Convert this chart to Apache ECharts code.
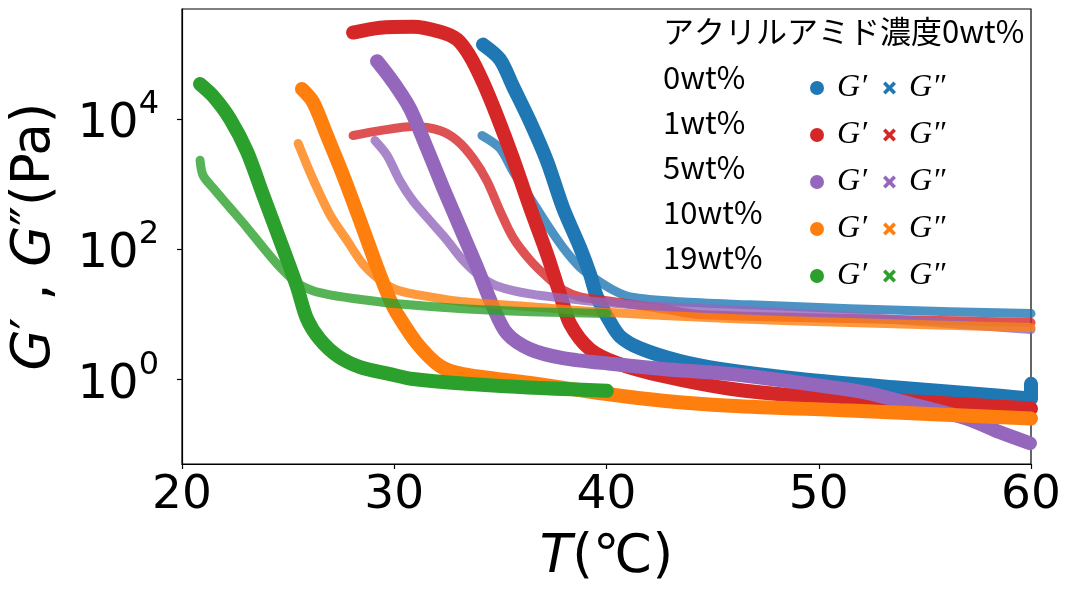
<!DOCTYPE html>
<html>
<head>
<meta charset="utf-8">
<script src="https://cdn.jsdelivr.net/npm/echarts@6/dist/echarts.min.js"></script>
<style>
  html, body { margin: 0; padding: 0; background: #fff; }
  #chart { width: 1066px; height: 590px; }
</style>
</head>
<body>
<div id="chart"></div>
<script>
// Storage modulus G' and loss modulus G'' (Pa) versus temperature (°C)
const concentrations = ['0wt%', '1wt%', '5wt%', '10wt%', '19wt%'];
const legendTitle = 'アクリルアミド濃度0wt%';
const xTicks = [20, 30, 40, 50, 60];
const yTicks = [1, 100, 10000];

// 0wt%
const T_gp_0 = [34.18, 34.98, 35.59, 36.40, 37.20, 37.95, 38.75, 39.22, 39.55, 40.16, 40.64, 41.58, 43.46, 45.35, 49.12, 53.83, 58.54, 60.0, 60.0];
const Gp_0   = [138000, 81800, 31800, 9040, 2230, 431, 106, 41.3, 18.5, 7.69, 4.55, 2.99, 1.90, 1.44, 1.01, 0.738, 0.557, 0.502, 0.849];
const T_gpp_0 = [34.13, 34.98, 35.59, 36.40, 37.20, 37.95, 38.75, 39.55, 40.31, 41.11, 43.46, 46.76, 51.47, 56.18, 60.0];
const Gpp_0   = [5540, 3520, 1570, 611, 238, 106, 52.7, 33.4, 23.5, 18.4, 15.5, 13.9, 12.1, 10.9, 10.2];

// 1wt%
const T_gp_1 = [28.06, 29.33, 30.88, 32.16, 32.96, 33.57, 34.18, 34.84, 35.59, 36.40, 37.20, 37.81, 38.28, 39.22, 40.49, 42.66, 45.82, 49.12, 53.83, 60.0];
const Gp_1   = [211000, 251000, 260000, 218000, 166000, 91200, 36600, 11100, 2480, 431, 83.2, 20.3, 7.17, 2.89, 1.77, 1.12, 0.713, 0.557, 0.468, 0.354];
const T_gpp_1 = [28.06, 29.33, 30.88, 32.16, 32.96, 33.71, 34.37, 34.98, 35.59, 36.40, 37.20, 37.95, 38.75, 39.69, 42.66, 44.40, 51.47, 60.0];
const Gpp_1   = [5540, 6590, 7590, 6590, 4650, 2480, 1110, 387, 151, 67.4, 37.2, 23.5, 18.4, 16.6, 12.1, 9.83, 8.54, 7.43];

// 5wt%
const T_gp_5 = [29.19, 29.94, 30.74, 31.54, 32.30, 33.10, 33.90, 34.65, 35.31, 36.40, 37.95, 40.31, 42.66, 45.82, 49.12, 52.27, 54.63, 56.98, 58.54, 59.95];
const Gp_5   = [76900, 36900, 14400, 3540, 873, 215, 52.7, 13.0, 5.06, 2.89, 2.11, 1.71, 1.44, 1.20, 0.879, 0.620, 0.393, 0.249, 0.153, 0.104];
const T_gpp_5 = [29.09, 29.66, 30.27, 30.88, 31.68, 32.49, 33.24, 34.04, 34.84, 36.40, 39.55, 42.66, 45.82, 51.47, 60.0];
const Gpp_5   = [4650, 2750, 1110, 550, 273, 136, 67.3, 38.5, 27.1, 20.5, 15.5, 13.0, 11.7, 9.17, 5.81];

// 10wt%
const T_gp_10 = [25.65, 26.17, 26.83, 27.59, 28.39, 29.19, 29.80, 30.13, 31.07, 32.16, 33.24, 36.40, 39.55, 42.66, 45.82, 51.47, 60.0];
const Gp_10   = [28700, 18200, 5540, 1360, 273, 52.7, 16.6, 10.2, 3.56, 1.59, 1.20, 0.879, 0.620, 0.468, 0.393, 0.330, 0.249];
const T_gpp_10 = [25.47, 25.89, 26.36, 26.97, 27.77, 28.53, 29.33, 30.13, 31.68, 33.24, 36.40, 39.55, 45.82, 51.47, 60.0];
const Gpp_10   = [4190, 1940, 867, 337, 136, 58.5, 33.4, 23.5, 18.4, 15.5, 13.0, 10.9, 8.54, 7.43, 6.24];

// 19wt%
const T_gp_19 = [20.85, 21.46, 22.26, 23.06, 23.82, 24.62, 25.42, 25.89, 26.50, 27.35, 28.39, 29.80, 30.88, 34.84, 40.02];
const Gp_19   = [34200, 22400, 10000, 3160, 678, 136, 26.2, 8.45, 4.08, 2.26, 1.54, 1.20, 1.01, 0.792, 0.665];
const T_gpp_19 = [20.85, 20.99, 21.46, 22.26, 23.06, 23.82, 24.62, 25.42, 26.17, 26.97, 28.53, 30.13, 33.24, 36.40, 40.02];
const Gpp_19   = [2310, 1360, 867, 431, 214, 106, 52.7, 30.1, 22.8, 19.8, 16.6, 14.4, 12.1, 10.9, 10.2];

const colors = ['#1f77b4', '#d62728', '#9467bd', '#ff7f0e', '#2ca02c'];

const storageSets = [[T_gp_0, Gp_0], [T_gp_1, Gp_1], [T_gp_5, Gp_5], [T_gp_10, Gp_10], [T_gp_19, Gp_19]];
const lossSets = [[T_gpp_0, Gpp_0], [T_gpp_1, Gpp_1], [T_gpp_5, Gpp_5], [T_gpp_10, Gpp_10], [T_gpp_19, Gpp_19]];

const zip = (xs, ys) => xs.map((x, i) => [x, ys[i]]);

const series = [];
concentrations.forEach((c, i) => {
  series.push({
    name: c + " G′",
    type: 'line',
    data: zip(storageSets[i][0], storageSets[i][1]),
    showSymbol: false,
    smooth: 0.3,
    color: colors[i],
    lineStyle: { width: 14, cap: 'round', join: 'round', color: colors[i] },
    emphasis: { disabled: true }
  });
  series.push({
    name: c + " G″",
    type: 'line',
    data: zip(lossSets[i][0], lossSets[i][1]),
    showSymbol: false,
    smooth: 0.3,
    color: colors[i],
    lineStyle: { width: 9, cap: 'round', join: 'round', color: colors[i], opacity: 0.8 },
    emphasis: { disabled: true }
  });
});

const crossIcon = 'path://M2,0 L5,3 L8,0 L10,2 L7,5 L10,8 L8,10 L5,7 L2,10 L0,8 L3,5 L0,2 Z';
const rowTop = 67, rowStep = 45;

const graphics = [{
  type: 'text', left: 663, top: 16,
  style: { text: legendTitle, fontFamily: 'Noto Sans CJK JP', fontSize: 31, fill: '#000' }
}];
concentrations.forEach((c, i) => {
  graphics.push({
    type: 'text', left: 663, top: rowTop + i * rowStep - 5,
    style: { text: c, fontFamily: 'Noto Sans CJK JP', fontSize: 31, fill: '#000' }
  });
});

const legendText = {
  rich: {
    g: { fontFamily: 'Liberation Serif', fontStyle: 'italic', fontSize: 32, lineHeight: 30, color: '#000', padding: [0, 0, 0, 8] }
  }
};

const axisTitleStyle = {
  fontFamily: 'DejaVu Sans', fontSize: 53, color: '#000',
  rich: { i: { fontFamily: 'DejaVu Sans', fontStyle: 'italic', fontSize: 53, color: '#000' } }
};

const option = {
  animation: false,
  backgroundColor: '#fff',
  grid: {
    left: 182, right: 35, top: 9, bottom: 121,
    show: true, borderColor: '#000', borderWidth: 1.2, backgroundColor: 'transparent'
  },
  legend: [{
    data: series.filter((s, k) => k % 2 === 0).map(s => s.name),
    orient: 'vertical', left: 805, top: rowTop, itemGap: 15,
    icon: 'circle', itemWidth: 14, itemHeight: 14,
    itemStyle: { opacity: 1 },
    formatter: () => '{g|G′}',
    textStyle: legendText,
    selectedMode: false
  }, {
    data: series.filter((s, k) => k % 2 === 1).map(s => s.name),
    orient: 'vertical', left: 878, top: rowTop, itemGap: 15,
    icon: crossIcon, itemWidth: 13, itemHeight: 13,
    itemStyle: { opacity: 1 },
    formatter: () => '{g|G″}',
    textStyle: legendText,
    selectedMode: false
  }],
  xAxis: {
    type: 'value', min: xTicks[0], max: xTicks[xTicks.length - 1], interval: 10,
    name: '{i|T}(℃)', nameLocation: 'middle', nameGap: 68,
    nameTextStyle: axisTitleStyle,
    axisLine: { show: true, onZero: false, lineStyle: { color: '#000', width: 1.2 } },
    axisTick: { show: true, inside: false, length: 5, lineStyle: { color: '#000', width: 1.2 } },
    axisLabel: { fontFamily: 'DejaVu Sans', fontSize: 47, color: '#000', margin: 8 },
    splitLine: { show: false }
  },
  yAxis: {
    type: 'log', logBase: 10, min: 0.0499, max: 486000,
    name: '{i|G}′ , {i|G}″(Pa)', nameLocation: 'middle', nameGap: 120, nameRotate: 90,
    nameTextStyle: axisTitleStyle,
    axisLine: { show: true, onZero: false, lineStyle: { color: '#000', width: 1.2 } },
    axisTick: { show: true, inside: false, length: 5, customValues: yTicks, lineStyle: { color: '#000', width: 1.2 } },
    minorTick: { show: false },
    axisLabel: {
      customValues: yTicks, margin: 23,
      formatter: v => '{b|10}{s|' + Math.round(Math.log10(v)) + '}',
      rich: {
        b: { fontFamily: 'DejaVu Sans', fontSize: 48, color: '#000', lineHeight: 60, verticalAlign: 'bottom' },
        s: { fontFamily: 'DejaVu Sans', fontSize: 32, color: '#000', lineHeight: 32, verticalAlign: 'top' }
      }
    },
    splitLine: { show: false }
  },
  graphic: graphics,
  series: series
};

const chart = echarts.init(document.getElementById('chart'), null, { renderer: 'canvas' });
chart.setOption(option);
</script>
</body>
</html>
